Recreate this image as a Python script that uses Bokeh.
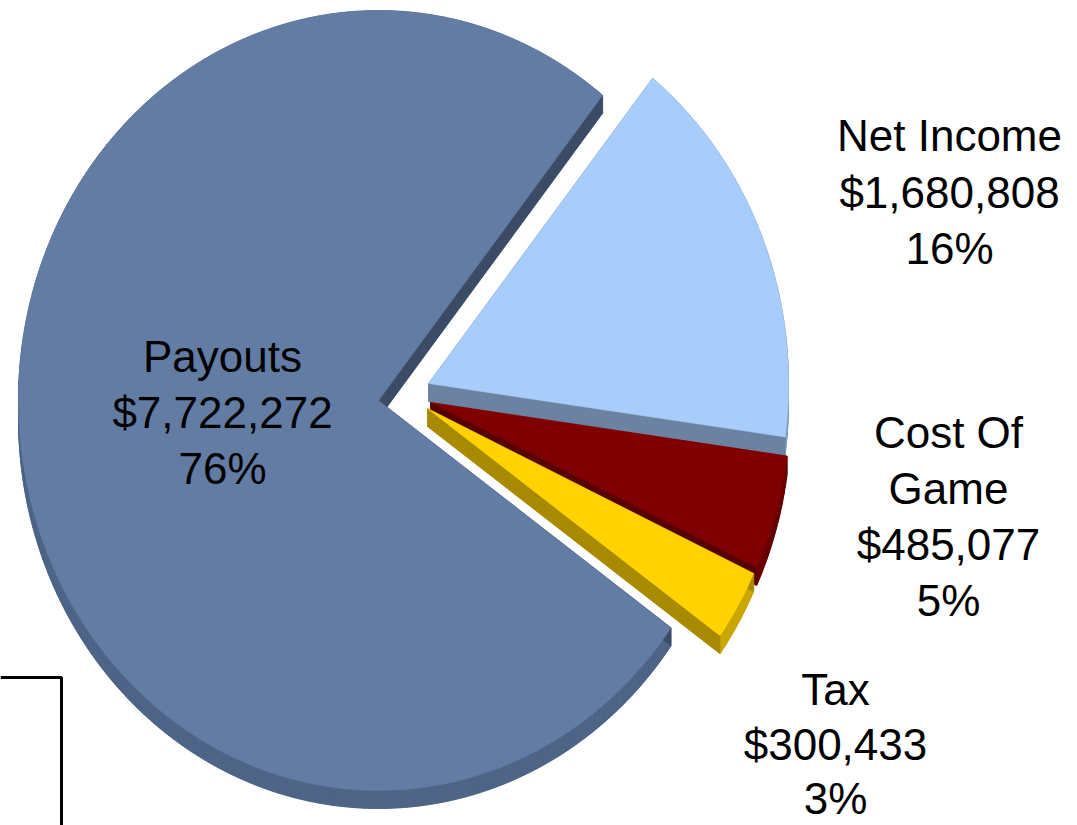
import numpy as np
from bokeh.plotting import figure
from bokeh.models import Range1d
from bokeh.embed import file_html
from bokeh.resources import INLINE
from bokeh.core.properties import value

# ---------------- data ----------------
categories = ["Net Income", "Cost Of Game", "Tax", "Payouts"]
amounts = [1680808, 485077, 300433, 7722272]

# ---------------- layout / style ----------------
W, H = 1077, 825
START_DEG = 51.5          # first slice starts here, slices go clockwise
RX, RY = 360, 390         # elliptical pie radii (px)
DEPTH = 18                # 3D thickness (px)

# slice tip (apex) positions in screen px (exploded pie)
tip_px = {
    "Net Income": (428, 383),
    "Cost Of Game": (430, 402),
    "Tax": (427, 408),
    "Payouts": (378, 400),
}
top_color = {
    "Net Income": "#a9cdfb",
    "Cost Of Game": "#800000",
    "Tax": "#ffd200",
    "Payouts": "#637ca4",
}
arc_side_color = {
    "Net Income": "#7f9cc4",
    "Cost Of Game": "#680000",
    "Tax": "#c9a700",
    "Payouts": "#4f6587",
}
cut_side_color = {
    "Net Income": "#6b82a1",
    "Cost Of Game": "#560000",
    "Tax": "#a88a00",
    "Payouts": "#3b4b66",
}
label_anchor_px = {
    "Net Income": (949, 135),
    "Cost Of Game": (948, 432),
    "Tax": (835, 689),
    "Payouts": (222, 356),
}
label_spacing = {"Net Income": 56.5, "Cost Of Game": 56, "Tax": 54.5, "Payouts": 56}
name_lines = {"Cost Of Game": ["Cost Of", "Game"]}
FONT = "Liberation Sans"


def to_data(px, py):
    return px, H - py


p = figure(width=W, height=H, x_range=Range1d(0, W), y_range=Range1d(0, H),
           output_backend="svg", toolbar_location=None, min_border=0,
           x_axis_location=None, y_axis_location=None)
p.grid.visible = False
p.outline_line_color = None
p.background_fill_color = "white"
p.border_fill_color = "white"

total = float(sum(amounts))
fracs = [a / total for a in amounts]

angle = START_DEG
for cat, frac in zip(categories, fracs):
    a0 = angle
    a1 = angle - frac * 360.0
    angle = a1
    n = max(int(abs(a1 - a0)) * 2, 8)
    t = np.radians(np.linspace(a0, a1, n))
    cx, cy = to_data(*tip_px[cat])
    ax = cx + RX * np.cos(t)
    ay = cy + RY * np.sin(t)
    px_ = np.concatenate([[cx], ax])
    py_ = np.concatenate([[cy], ay])

    # side faces (extrusion quads)
    arc_xs, arc_ys, cut_xs, cut_ys = [], [], [], []
    m = len(px_)
    for i in range(m):
        j = (i + 1) % m
        qx = [px_[i], px_[j], px_[j], px_[i]]
        qy = [py_[i], py_[j], py_[j] - DEPTH, py_[i] - DEPTH]
        if i == 0 or j == 0:
            cut_xs.append(qx); cut_ys.append(qy)
        else:
            arc_xs.append(qx); arc_ys.append(qy)
    p.patch(px_, py_ - DEPTH, fill_color=arc_side_color[cat], line_color=arc_side_color[cat], line_width=0.5)
    p.patches(arc_xs, arc_ys, fill_color=arc_side_color[cat], line_color=arc_side_color[cat], line_width=0.6)
    p.patches(cut_xs, cut_ys, fill_color=cut_side_color[cat], line_color=cut_side_color[cat], line_width=0.6)
    # top face
    p.patch(px_, py_, fill_color=top_color[cat], line_color=top_color[cat], line_width=0.5)

# labels
tx, ty, tt = [], [], []
for cat, amt in zip(categories, amounts):
    lines = name_lines.get(cat, [cat]) + [f"${amt:,}", f"{round(100 * amt / total)}%"]
    lx, ly = label_anchor_px[cat]
    for k, s in enumerate(lines):
        x, y = to_data(lx, ly + k * label_spacing[cat])
        tx.append(x); ty.append(y); tt.append(s)
p.text(x=tx, y=ty, text=tt, text_font=value(FONT), text_font_size="44px",
       text_font_style="normal", text_align="center", text_baseline="middle",
       text_color="black")

# frame fragment at bottom-left
bx = [0, 61, 61]
by = [H - 677, H - 677, 0]
p.line(bx, by, line_color="black", line_width=3)

open("out.html", "w").write(file_html(p, INLINE))
